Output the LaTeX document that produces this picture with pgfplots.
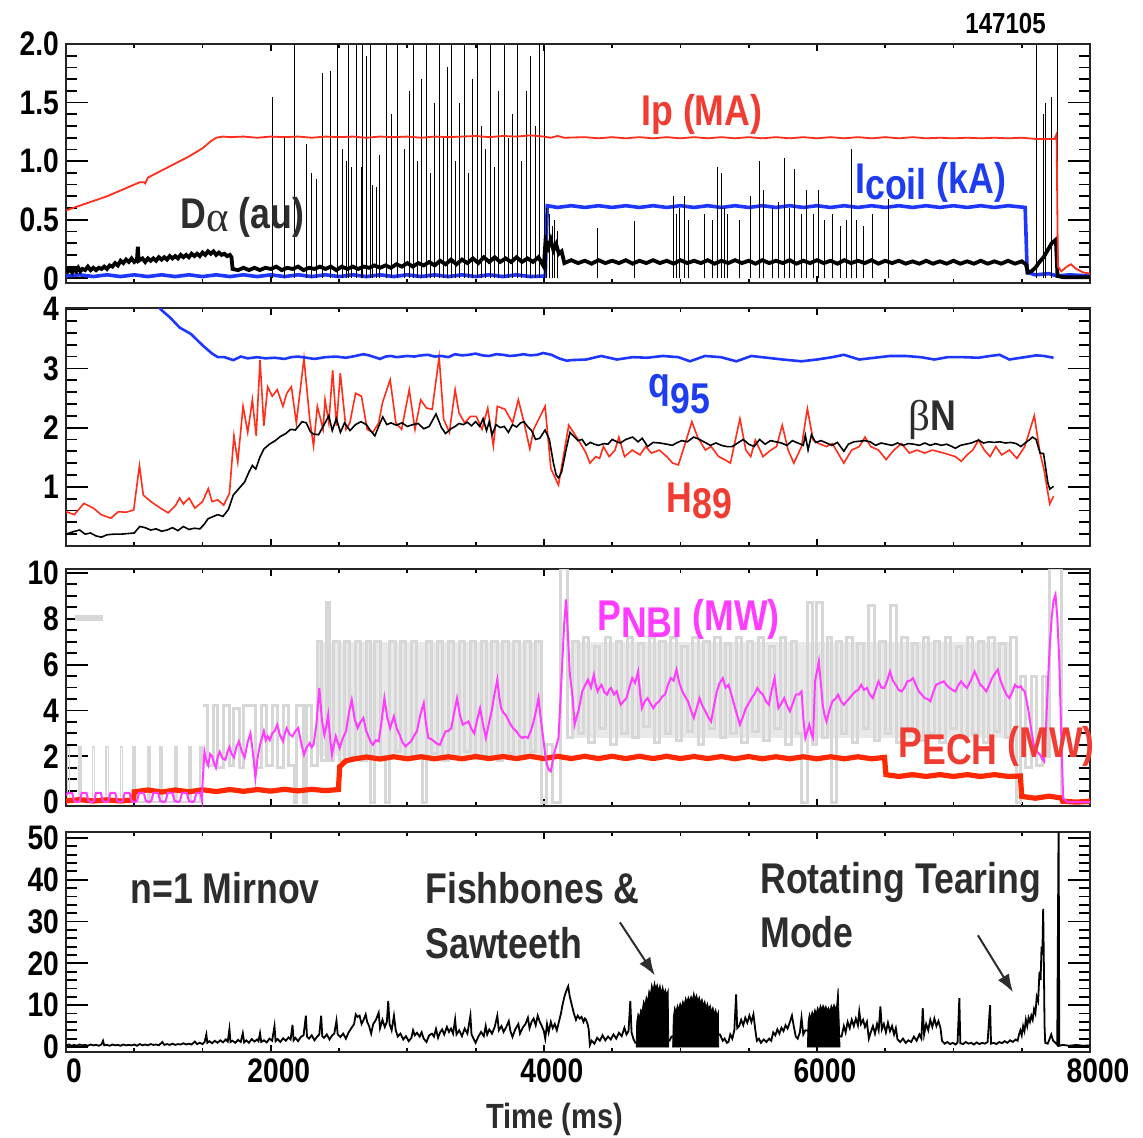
\documentclass[border=0pt]{standalone}
\usepackage{fontspec}
\setmainfont{Liberation Sans}[FakeStretch=0.83]
\newfontfamily\grk{Liberation Serif}
\usepackage{pgfplots}
\pgfplotsset{compat=1.18}
\usetikzlibrary{arrows.meta}

\definecolor{ipred}{RGB}{255,45,25}
\definecolor{lblred}{RGB}{240,60,50}
\definecolor{cblue}{RGB}{30,55,255}
\definecolor{lblblue}{RGB}{30,60,240}
\definecolor{nbimag}{RGB}{255,60,255}
\definecolor{echred}{RGB}{255,40,0}
\definecolor{beamgray}{RGB}{215,215,215}
\definecolor{beamfill}{RGB}{233,233,233}
\definecolor{txtgray}{RGB}{45,45,45}

\newcommand\tfont{\bfseries\fontsize{17}{17}\selectfont}
\newcommand\lfont{\bfseries\fontsize{21.5}{22}\selectfont}

\pgfplotsset{
  panel/.style={
    anchor=north west, scale only axis, width=512pt,
    xmin=500, xmax=8000,
    xtick={500,2000,4000,6000,8000}, xticklabels={},
    minor xtick={1000,1500,2500,3000,3500,4500,5000,5500,6500,7000,7500},
    tick align=inside, xtick pos=both, ytick pos=both,
    major tick length=11pt, minor tick length=5.5pt,
    xtick style={/pgfplots/major tick length=3.5pt,/pgfplots/minor tick length=2pt},
    every tick/.style={black, line width=0.9pt},
    axis line style={black!85, line width=1.2pt},
    yticklabel style={font=\tfont},
    xticklabel style={font=\tfont},
  }
}

\begin{document}
\begin{tikzpicture}
\path[use as bounding box] (0,0) rectangle (571.5pt,-568.5pt);

% ---------------- Panel 1: Ip, Icoil, D-alpha ----------------
\begin{axis}[panel, at={(33pt,-22pt)}, height=119.5pt,
  ymin=-0.04, ymax=2.0,
  ytick={0,0.5,1,1.5,2}, yticklabels={0,0.5,1.0,1.5,2.0},
  minor y tick num=4]
% coil current
\addplot[cblue, line width=1.8pt] coordinates {
(500,0.02)(600,0.03)(700,0.015)(800,0.03)(900,0.015)(1000,0.03)(1100,0.015)(1200,0.03)
(1300,0.015)(1400,0.03)(1500,0.015)(1600,0.03)(1700,0.015)(1800,0.03)(1900,0.015)(2000,0.03)
(2100,0.015)(2200,0.03)(2300,0.015)(2400,0.03)(2500,0.015)(2600,0.03)(2700,0.015)(2800,0.03)
(2900,0.015)(3000,0.03)(3100,0.015)(3200,0.03)(3300,0.015)(3400,0.03)(3500,0.015)(3600,0.03)
(3700,0.015)(3800,0.03)(3900,0.015)(4010,0.02)(4025,0.62)(4100,0.605)(4200,0.62)(4300,0.605)
(4400,0.62)(4500,0.605)(4600,0.62)(4700,0.605)(4800,0.62)(4900,0.605)(5000,0.62)(5100,0.605)
(5200,0.62)(5300,0.605)(5400,0.62)(5500,0.605)(5600,0.62)(5700,0.605)(5800,0.62)(5900,0.605)
(6000,0.62)(6100,0.605)(6200,0.62)(6300,0.605)(6400,0.62)(6500,0.605)(6600,0.62)(6700,0.605)
(6800,0.62)(6900,0.605)(7000,0.62)(7100,0.605)(7200,0.62)(7300,0.605)(7400,0.62)(7525,0.605)
(7540,0.05)(7600,0.03)(7700,0.04)(7760,0.02)(7850,0.03)(8000,0.02)};
% D-alpha baseline
\addplot[black, line width=1.9pt] coordinates {
(500,0.09)(515,0.06)(530,0.08)(545,0.05)(560,0.08)(575,0.06)(590,0.09)(605,0.06)(620,0.08)
(640,0.07)(660,0.10)(680,0.07)(700,0.09)(720,0.07)(740,0.09)(760,0.08)(780,0.10)(800,0.08)
(820,0.11)(840,0.10)(860,0.13)(880,0.11)(900,0.15)(920,0.13)(940,0.16)(960,0.14)(980,0.17)
(1000,0.14)(1020,0.16)(1026,0.27)(1032,0.15)(1060,0.17)(1080,0.14)(1100,0.17)(1120,0.15)
(1140,0.17)(1160,0.15)(1180,0.18)(1200,0.16)(1220,0.18)(1240,0.16)(1260,0.19)(1280,0.17)
(1300,0.19)(1320,0.17)(1340,0.20)(1360,0.18)(1380,0.20)(1400,0.18)(1420,0.21)(1440,0.19)
(1460,0.21)(1480,0.19)(1500,0.22)(1520,0.20)(1540,0.23)(1560,0.21)(1580,0.23)(1600,0.20)
(1620,0.22)(1640,0.20)(1660,0.21)(1680,0.19)(1700,0.20)(1712,0.18)(1720,0.08)
(1760,0.07)(1800,0.09)(1840,0.07)(1880,0.09)(1920,0.07)(1960,0.09)(2000,0.08)(2040,0.10)
(2080,0.07)(2120,0.09)(2160,0.08)(2200,0.10)(2240,0.07)(2280,0.09)(2320,0.08)(2360,0.10)
(2400,0.08)(2440,0.10)(2480,0.07)(2520,0.10)(2560,0.08)(2600,0.10)(2640,0.08)(2680,0.10)
(2720,0.09)(2760,0.11)(2800,0.09)(2840,0.11)(2880,0.09)(2920,0.12)(2960,0.10)(3000,0.13)
(3040,0.10)(3080,0.13)(3120,0.11)(3160,0.14)(3200,0.11)(3240,0.15)(3280,0.12)(3320,0.16)
(3360,0.12)(3400,0.16)(3440,0.13)(3480,0.17)(3520,0.13)(3560,0.18)(3600,0.14)(3640,0.18)
(3680,0.14)(3720,0.17)(3760,0.14)(3800,0.18)(3840,0.14)(3880,0.17)(3920,0.14)(3960,0.18)
(4000,0.10)(4012,0.32)(4030,0.26)(4050,0.33)(4070,0.24)(4090,0.29)(4110,0.21)(4130,0.23)
(4150,0.13)(4200,0.155)(4250,0.13)(4300,0.15)(4350,0.125)(4400,0.155)(4450,0.13)(4500,0.15)
(4550,0.13)(4600,0.155)(4650,0.125)(4700,0.15)(4750,0.13)(4800,0.155)(4850,0.13)(4900,0.15)
(4950,0.125)(5000,0.155)(5050,0.13)(5100,0.15)(5150,0.13)(5200,0.155)(5250,0.125)(5300,0.15)
(5350,0.13)(5400,0.155)(5450,0.13)(5500,0.15)(5550,0.125)(5600,0.155)(5650,0.13)(5700,0.15)
(5750,0.13)(5800,0.155)(5850,0.125)(5900,0.15)(5950,0.13)(6000,0.155)(6050,0.13)(6100,0.15)
(6150,0.125)(6200,0.155)(6250,0.13)(6300,0.15)(6350,0.13)(6400,0.155)(6450,0.125)(6500,0.15)
(6550,0.13)(6600,0.15)(6650,0.125)(6700,0.145)(6750,0.125)(6800,0.15)(6850,0.125)(6900,0.145)
(6950,0.125)(7000,0.15)(7050,0.125)(7100,0.145)(7150,0.125)(7200,0.15)(7250,0.125)(7300,0.145)
(7350,0.125)(7400,0.15)(7450,0.125)(7500,0.145)(7530,0.12)(7545,0.05)(7570,0.06)(7600,0.09)
(7630,0.14)(7660,0.18)(7690,0.24)(7720,0.30)(7750,0.33)(7762,0.02)(7800,0.01)(8000,0.01)};
% D-alpha ELM spikes
\addplot[black, line width=0.5pt, ycomb] coordinates {
(2015,1.55)(2102,1.20)(2176,2.10)(2263,1.15)(2300,0.90)(2336,0.85)(2380,1.75)(2438,1.77)
(2491,2.10)(2528,1.10)(2557,1.00)(2572,2.10)(2594,0.95)(2630,2.10)(2667,0.95)(2674,2.10)
(2704,1.90)(2733,2.10)(2748,0.80)(2777,0.78)(2799,1.05)(2850,2.10)(2887,1.40)(2930,2.10)
(2982,1.10)(3018,1.60)(3048,2.10)(3077,1.00)(3106,1.70)(3143,2.10)(3172,0.90)(3201,1.50)
(3238,2.10)(3267,1.20)(3297,1.80)(3326,2.10)(3355,1.00)(3385,1.50)(3421,2.10)(3450,0.90)
(3480,1.70)(3516,2.10)(3545,1.30)(3575,1.10)(3612,2.10)(3641,0.95)(3670,1.60)(3714,2.10)
(3743,1.20)(3773,1.40)(3810,2.10)(3839,1.00)(3875,1.60)(3905,1.90)(3941,1.30)(3971,2.10)
(4007,2.10)(4020,0.60)(4040,0.55)(4060,0.45)(4080,0.50)(4100,0.40)
(4394,0.43)(4661,0.49)(4952,0.70)(4970,0.55)(4990,0.60)(5028,0.70)(5056,0.50)(5177,0.55)
(5233,0.50)(5273,0.95)(5304,0.90)(5324,0.60)(5346,0.55)(5436,0.50)(5515,0.70)(5577,1.00)
(5605,0.75)(5676,0.60)(5718,0.65)(5760,1.03)(5802,0.60)(5836,0.93)(5887,0.55)(5924,0.75)
(5972,0.55)(6014,0.75)(6056,0.50)(6113,0.55)(6169,0.45)(6220,0.50)(6253,1.10)(6290,0.50)
(6338,0.45)(6408,0.55)(6521,0.68)
(7606,2.10)(7656,1.40)(7676,1.50)(7716,1.55)(7765,2.10)};
% plasma current
\addplot[ipred, line width=0.9pt] coordinates {
(500,0.58)(600,0.62)(700,0.66)(800,0.70)(900,0.75)(1000,0.80)(1040,0.82)(1070,0.82)
(1080,0.81)(1100,0.86)(1150,0.89)(1200,0.92)(1300,0.98)(1400,1.04)(1500,1.11)(1560,1.17)
(1600,1.20)(1650,1.21)(1700,1.205)(1800,1.21)(1900,1.20)(2000,1.21)(2100,1.205)(2200,1.21)
(2300,1.20)(2400,1.21)(2500,1.205)(2600,1.21)(2700,1.20)(2800,1.21)(2900,1.205)(3000,1.21)
(3100,1.20)(3200,1.21)(3300,1.205)(3400,1.21)(3500,1.215)(3600,1.205)(3700,1.215)(3800,1.21)
(3900,1.22)(4000,1.21)(4050,1.20)(4100,1.215)(4150,1.20)(4300,1.205)(4400,1.195)(4500,1.205)
(4600,1.195)(4700,1.205)(4800,1.195)(4900,1.205)(5000,1.195)(5100,1.205)(5200,1.195)(5300,1.205)
(5400,1.195)(5500,1.205)(5600,1.195)(5700,1.205)(5800,1.195)(5900,1.205)(6000,1.195)(6100,1.205)
(6200,1.195)(6300,1.205)(6400,1.195)(6500,1.205)(6600,1.195)(6700,1.205)(6800,1.195)(6900,1.20)
(7000,1.195)(7100,1.20)(7200,1.195)(7300,1.20)(7400,1.195)(7500,1.20)(7600,1.19)(7700,1.19)
(7740,1.19)(7755,1.23)(7765,0.10)(7790,0.06)(7830,0.10)(7860,0.12)(7900,0.08)(7950,0.05)(8000,0.04)};
\end{axis}

% ---------------- Panel 2: q95, betaN, H89 ----------------
\begin{axis}[panel, at={(33pt,-154pt)}, height=119pt,
  ymin=0, ymax=4.02,
  ytick={0,1,2,3,4}, yticklabels={,1,2,3,4},
  minor y tick num=4]
% confinement factor
\addplot[ipred, line width=0.8pt] coordinates {
(500,0.58)(561,0.53)(631,0.72)(701,0.64)(757,0.53)(828,0.47)(884,0.58)(940,0.57)(996,0.61)
(1038,1.36)(1066,0.86)(1122,0.75)(1192,0.64)(1248,0.56)(1304,0.69)(1332,0.81)(1360,0.71)
(1402,0.81)(1444,0.64)(1500,0.75)(1542,0.97)(1570,0.75)(1612,0.78)(1655,0.69)(1697,0.89)
(1730,1.86)(1758,1.42)(1797,2.36)(1831,1.92)(1865,2.47)(1893,1.86)(1921,3.14)(1949,2.03)
(1977,2.69)(2010,2.53)(2047,2.64)(2089,2.36)(2117,2.58)(2151,2.69)(2187,2.08)(2243,3.17)
(2285,2.14)(2313,1.69)(2341,2.36)(2383,1.97)(2397,2.47)(2425,2.08)(2453,2.97)(2481,2.03)
(2509,2.92)(2551,1.97)(2579,2.08)(2621,2.58)(2664,2.53)(2706,1.97)(2748,1.92)(2790,2.08)
(2818,2.42)(2874,2.81)(2916,2.08)(2958,1.97)(3014,2.64)(3056,1.97)(3098,2.47)(3140,2.33)
(3182,2.31)(3233,3.19)(3266,2.14)(3308,1.92)(3350,2.64)(3378,2.25)(3420,2.08)(3463,2.19)
(3505,2.19)(3547,1.97)(3589,2.33)(3630,1.69)(3659,2.36)(3715,2.31)(3771,2.08)(3813,2.47)
(3855,2.08)(3897,1.64)(3925,1.97)(4009,2.36)(4051,1.31)(4107,1.03)(4182,2.04)(4253,1.79)
(4309,1.57)(4337,1.40)(4380,1.51)(4408,1.48)(4436,1.68)(4478,1.51)(4521,1.62)(4549,1.84)
(4591,1.51)(4647,1.62)(4704,1.54)(4746,1.68)(4788,1.57)(4845,1.62)(4901,1.51)(4943,1.40)
(4985,1.37)(5028,1.68)(5084,2.10)(5126,1.84)(5183,1.62)(5225,1.68)(5281,1.51)(5324,1.46)
(5366,1.40)(5436,2.15)(5479,1.62)(5515,1.51)(5549,1.79)(5605,1.51)(5662,1.62)(5704,1.68)
(5746,2.04)(5789,1.62)(5831,1.40)(5887,1.68)(5930,2.32)(5972,1.79)(6014,1.73)(6070,1.68)
(6113,1.73)(6197,1.40)(6254,1.62)(6310,1.68)(6352,1.84)(6394,1.68)(6451,1.62)(6507,1.46)
(6563,1.62)(6620,1.73)(6676,1.57)(6733,1.62)(6789,1.57)(6845,1.62)(6930,1.57)(7014,1.51)
(7057,1.43)(7099,1.54)(7141,1.62)(7184,1.79)(7226,1.62)(7268,1.51)(7310,1.68)(7353,1.54)
(7409,1.62)(7465,1.48)(7522,1.68)(7592,2.20)(7634,1.57)(7663,1.29)(7705,0.71)(7733,0.84)};
% normalised beta
\addplot[black, line width=0.8pt] coordinates {
(500,0.20)(550,0.24)(600,0.27)(640,0.20)(680,0.22)(720,0.17)(760,0.15)(800,0.19)(850,0.20)
(900,0.20)(950,0.21)(1000,0.22)(1040,0.33)(1080,0.31)(1120,0.27)(1160,0.29)(1200,0.25)
(1240,0.27)(1280,0.31)(1320,0.26)(1360,0.33)(1400,0.28)(1440,0.30)(1480,0.29)(1510,0.36)
(1540,0.46)(1580,0.50)(1612,0.53)(1650,0.50)(1690,0.62)(1725,0.86)(1770,0.98)(1808,1.08)
(1840,1.25)(1865,1.36)(1890,1.30)(1920,1.50)(1950,1.64)(1990,1.72)(2033,1.78)(2070,1.85)
(2110,1.90)(2145,1.97)(2180,1.96)(2229,2.10)(2260,2.08)(2290,1.93)(2313,1.89)(2350,1.88)
(2390,2.05)(2425,2.20)(2450,1.95)(2480,2.15)(2510,1.92)(2540,2.08)(2580,1.95)(2620,2.05)
(2660,2.10)(2700,2.05)(2730,1.95)(2762,1.86)(2790,2.02)(2820,2.18)(2850,2.05)(2880,2.08)
(2920,2.04)(2960,2.08)(3000,2.02)(3040,2.05)(3080,2.07)(3120,1.98)(3160,2.02)(3210,2.23)
(3250,2.00)(3280,1.90)(3320,1.98)(3350,2.02)(3378,2.07)(3410,2.05)(3440,2.09)(3470,2.03)
(3500,2.10)(3530,2.02)(3555,2.15)(3580,1.95)(3600,2.10)(3620,1.88)(3650,2.05)(3680,2.00)
(3710,2.02)(3740,1.92)(3770,2.05)(3800,2.01)(3830,2.08)(3855,2.10)(3880,2.02)(3910,1.95)
(3939,1.80)(3970,1.82)(4009,1.96)(4040,1.80)(4070,1.40)(4090,1.20)(4107,1.15)(4130,1.25)
(4160,1.60)(4191,1.92)(4220,1.85)(4250,1.78)(4280,1.80)(4309,1.70)(4340,1.75)(4370,1.72)
(4400,1.70)(4440,1.73)(4470,1.72)(4500,1.80)(4535,1.76)(4560,1.74)(4600,1.80)(4650,1.84)
(4690,1.76)(4720,1.82)(4760,1.68)(4800,1.75)(4850,1.74)(4900,1.72)(4940,1.70)(4970,1.74)
(5010,1.78)(5050,1.76)(5098,1.84)(5140,1.80)(5180,1.75)(5220,1.70)(5260,1.74)(5300,1.70)
(5340,1.68)(5380,1.68)(5420,1.74)(5460,1.80)(5500,1.72)(5540,1.68)(5580,1.80)(5620,1.72)
(5660,1.78)(5700,1.76)(5740,1.74)(5780,1.70)(5820,1.78)(5860,1.74)(5900,1.70)(5915,1.87)
(5935,1.62)(5960,1.88)(5990,1.75)(6030,1.78)(6070,1.74)(6110,1.70)(6150,1.75)(6197,1.60)
(6230,1.72)(6270,1.76)(6310,1.77)(6350,1.78)(6390,1.76)(6430,1.70)(6470,1.74)(6510,1.72)
(6550,1.70)(6590,1.74)(6630,1.70)(6670,1.73)(6710,1.72)(6750,1.70)(6790,1.74)(6830,1.70)
(6870,1.73)(6910,1.70)(6950,1.72)(6990,1.68)(7014,1.65)(7050,1.70)(7090,1.72)(7130,1.74)
(7184,1.79)(7220,1.74)(7260,1.76)(7300,1.75)(7340,1.76)(7380,1.74)(7420,1.75)(7460,1.73)
(7494,1.68)(7530,1.75)(7560,1.80)(7578,1.84)(7605,1.80)(7634,1.57)(7660,1.56)(7691,1.07)
(7705,0.96)(7733,1.01)};
% edge safety factor
\addplot[cblue, line width=1.3pt] coordinates {
(1100,4.50)(1150,4.20)(1192,4.00)(1262,3.86)(1332,3.69)(1416,3.58)(1500,3.39)(1570,3.25)
(1612,3.19)(1660,3.19)(1725,3.14)(1780,3.20)(1830,3.17)(1900,3.19)(1960,3.17)(2030,3.18)
(2100,3.16)(2150,3.19)(2200,3.20)(2260,3.18)(2320,3.16)(2400,3.19)(2480,3.20)(2550,3.18)
(2620,3.21)(2678,3.24)(2720,3.22)(2760,3.19)(2800,3.16)(2840,3.20)(2880,3.21)(2920,3.19)
(2960,3.20)(3000,3.21)(3050,3.20)(3100,3.22)(3150,3.23)(3200,3.20)(3250,3.21)(3300,3.19)
(3350,3.24)(3400,3.22)(3450,3.23)(3500,3.25)(3550,3.22)(3600,3.21)(3650,3.24)(3700,3.23)
(3750,3.21)(3800,3.22)(3850,3.24)(3900,3.22)(3950,3.23)(3995,3.26)(4056,3.23)(4110,3.17)
(4168,3.13)(4200,3.14)(4309,3.15)(4420,3.21)(4535,3.15)(4650,3.19)(4760,3.18)(4870,3.21)
(4985,3.19)(5070,3.12)(5180,3.21)(5295,3.19)(5410,3.12)(5520,3.21)(5635,3.18)(5750,3.15)
(5887,3.12)(6000,3.15)(6113,3.19)(6197,3.23)(6310,3.15)(6422,3.18)(6535,3.21)(6648,3.21)
(6760,3.19)(6860,3.15)(6958,3.19)(7070,3.19)(7184,3.18)(7268,3.21)(7338,3.23)(7409,3.15)
(7522,3.19)(7606,3.22)(7663,3.21)(7733,3.18)};
\end{axis}

% ---------------- Panel 3: heating powers ----------------
\begin{axis}[panel, at={(33pt,-284.5pt)}, height=118.5pt,
  ymin=-0.17, ymax=10.17,
  ytick={0,2,4,6,8,10}, yticklabels={0,2,4,6,8,10},
  minor y tick num=3]
% envelope of the modulated beam power
\addplot[draw=none, fill=beamfill] coordinates {(2340,7.0)(3980,7.0)(3980,2.0)(2340,2.0)};
\addplot[draw=none, fill=beamfill] coordinates {(4210,7.0)(7420,7.0)(7420,2.8)(4210,2.8)};
% raw beam power: early diagnostic blips
\addplot[beamgray, line width=0.8pt, const plot] coordinates {
(500,0)(510,2.4)(525,0)(595,2.4)(610,0)(695,2.4)(710,0)(795,2.4)(810,0)(900,2.4)(915,0)
(990,2.4)(1005,0)(1100,2.4)(1115,0)(1190,2.4)(1205,0)(1300,2.4)(1315,0)(1400,2.4)(1415,0)
(1480,2.4)(1495,1.5)(1500,1.5)};
% raw beam power: modulated sources
\addplot[beamgray, line width=1.5pt, const plot] coordinates {
(1500,4.2)(1540,1.6)(1580,4.2)(1610,1.5)(1650,4.2)(1700,1.6)(1730,4.1)
(1770,1.5)(1800,4.2)(1850,4.2)(1890,1.5)(1930,4.2)(1970,1.6)(2010,4.2)(2050,1.5)(2090,4.2)
(2130,1.6)(2170,0)(2190,4.2)(2240,0)(2260,4.2)(2300,1.6)(2340,7.0)(2370,1.8)(2410,8.7)
(2430,1.8)(2460,7.0)(2500,1.8)(2540,7.0)(2580,2.0)(2620,7.0)(2660,1.8)(2700,7.0)(2730,0)
(2760,7.0)(2800,2.0)(2840,0)(2870,7.0)(2910,2.2)(2950,7.0)(2990,1.9)(3030,7.0)(3070,2.0)
(3110,0)(3140,7.0)(3180,2.1)(3220,7.0)(3260,1.8)(3300,7.0)(3340,2.0)(3380,7.0)(3420,2.2)
(3460,7.0)(3500,1.9)(3540,7.0)(3580,2.0)(3620,7.0)(3660,1.8)(3700,7.0)(3740,2.1)(3780,7.0)
(3820,1.9)(3860,7.0)(3900,2.2)(3940,7.0)(3980,0)(4020,2.5)(4060,0)(4120,10.2)(4170,2.8)
(4210,7.0)(4250,3.0)(4290,7.2)(4330,2.6)(4370,6.8)(4410,3.2)(4450,7.2)(4490,2.5)(4530,7.0)
(4570,3.0)(4610,7.2)(4650,2.8)(4690,6.9)(4730,3.3)(4770,7.2)(4810,2.6)(4850,7.0)(4890,3.0)
(4930,7.2)(4970,2.7)(5010,6.8)(5050,3.1)(5090,7.2)(5130,2.5)(5170,7.0)(5210,3.2)(5250,7.2)
(5290,2.8)(5330,6.9)(5370,3.0)(5410,7.2)(5450,2.6)(5490,7.0)(5530,3.1)(5570,7.2)(5610,2.7)
(5650,6.8)(5690,3.2)(5730,7.2)(5770,2.5)(5810,7.0)(5850,3.0)(5890,0)(5930,8.7)(5970,2.5)
(6000,8.7)(6040,2.8)(6080,7.2)(6110,0)(6140,7.0)(6180,3.0)(6220,7.2)(6260,2.6)(6300,6.9)
(6340,3.2)(6380,8.6)(6420,2.7)(6460,7.0)(6500,3.0)(6540,8.6)(6580,2.6)(6620,7.2)(6660,3.1)
(6700,6.9)(6740,2.7)(6780,7.2)(6820,3.0)(6860,7.0)(6900,2.6)(6940,7.2)(6980,3.2)(7020,6.8)
(7060,2.8)(7100,7.2)(7140,3.0)(7180,7.0)(7220,2.6)(7260,7.2)(7300,3.1)(7340,6.9)(7380,2.8)
(7420,7.2)(7460,0)(7490,5.5)(7530,1.5)(7570,5.5)(7610,1.6)(7650,5.5)(7680,2.0)(7700,10.2)
(7790,0)(8000,0)};
\addplot[beamgray, line width=3pt] coordinates {(564,8.05)(769,8.05)};
% electron cyclotron heating power
\addplot[echred, line width=2.6pt] coordinates {
(500,0.05)(600,0.11)(700,0.05)(800,0.10)(900,0.05)(995,0.10)(1000,0.45)(1100,0.53)(1200,0.44)
(1300,0.53)(1400,0.45)(1500,0.54)(1600,0.46)(1700,0.55)(1800,0.47)(1900,0.55)(2000,0.48)
(2100,0.56)(2200,0.49)(2300,0.56)(2400,0.50)(2495,0.55)(2505,1.55)(2550,1.80)(2600,1.87)
(2700,1.97)(2800,1.88)(2900,1.98)(3000,1.89)(3100,1.98)(3200,1.89)(3300,1.98)(3400,1.89)
(3500,1.99)(3600,1.90)(3700,1.99)(3800,1.90)(3900,2.00)(4000,1.90)(4100,2.00)(4200,1.90)
(4300,2.00)(4400,1.90)(4500,2.00)(4600,1.90)(4700,2.00)(4800,1.90)(4900,2.00)(5000,1.90)
(5100,1.99)(5200,1.90)(5300,1.99)(5400,1.89)(5500,1.99)(5600,1.89)(5700,1.98)(5800,1.89)
(5900,1.98)(6000,1.89)(6100,1.98)(6200,1.89)(6300,1.98)(6400,1.89)(6495,1.95)(6505,1.20)
(6600,1.12)(6700,1.20)(6800,1.12)(6900,1.20)(7000,1.12)(7100,1.20)(7200,1.12)(7300,1.20)
(7400,1.12)(7490,1.14)(7500,0.25)(7600,0.17)(7700,0.26)(7790,0.18)(7800,0.04)(7900,0.00)(8000,0.04)};
% neutral beam power (smoothed)
\addplot[nbimag, line width=1pt] coordinates {
(500,0.30)(515,0.40)(545,0.40)(560,0.05)(585,0)(600,0.05)(615,0.40)(650,0.40)(665,0.05)
(690,0)(705,0.05)(720,0.40)(755,0.40)(770,0.05)(795,0)(810,0.05)(825,0.40)(860,0.40)
(875,0.05)(900,0)(915,0.05)(930,0.40)(965,0.40)(980,0.05)(1005,0)(1020,0.05)(1035,0.40)
(1070,0.40)(1085,0.05)(1110,0)(1125,0.05)(1140,0.40)(1175,0.40)(1190,0.05)(1215,0)
(1230,0.05)(1245,0.40)(1280,0.40)(1295,0.05)(1320,0)(1335,0.05)(1350,0.40)(1385,0.40)
(1400,0.05)(1425,0)(1440,0.05)(1455,0.40)(1485,0.40)(1495,0.10)(1500,0.80)
(1514,2.20)(1528,1.80)(1542,1.60)(1556,2.10)(1570,2.00)(1584,1.70)(1598,1.50)(1612,2.00)
(1626,2.20)(1647,1.90)(1668,1.85)(1683,2.20)(1697,2.40)(1713,2.10)(1730,1.95)(1748,2.40)
(1767,2.65)(1788,2.20)(1808,1.95)(1830,2.60)(1851,3.00)(1870,2.10)(1887,1.05)(1905,2.00)
(1921,2.50)(1935,2.80)(1949,3.10)(1963,2.70)(1977,2.87)(1993,2.70)(2010,3.00)(2028,3.10)
(2047,3.38)(2068,2.90)(2089,2.65)(2103,3.00)(2117,3.23)(2138,2.95)(2159,2.87)(2180,3.10)
(2201,3.23)(2222,2.60)(2243,2.07)(2264,2.40)(2285,2.58)(2299,2.40)(2313,2.50)(2334,3.40)
(2355,4.98)(2374,3.60)(2392,2.94)(2406,3.30)(2420,3.81)(2434,2.80)(2448,2.07)(2462,2.50)
(2476,2.87)(2490,2.60)(2504,2.36)(2528,2.80)(2551,3.09)(2572,3.90)(2593,4.47)(2615,3.60)
(2636,3.23)(2657,3.50)(2678,3.67)(2699,3.10)(2720,2.80)(2734,2.60)(2748,2.50)(2769,2.70)
(2790,2.65)(2811,3.50)(2832,4.54)(2853,3.70)(2874,3.23)(2888,3.50)(2902,3.74)(2923,3.20)
(2944,2.94)(2965,2.60)(2986,2.43)(3007,2.55)(3028,2.65)(3049,2.90)(3070,3.09)(3095,3.80)
(3120,4.32)(3137,3.40)(3154,2.80)(3175,2.75)(3196,2.65)(3217,2.55)(3238,2.50)(3259,2.80)
(3280,3.09)(3301,3.10)(3322,3.23)(3343,3.90)(3364,4.54)(3385,3.80)(3406,3.38)(3427,3.45)
(3448,3.52)(3469,3.20)(3490,3.00)(3512,3.60)(3533,4.10)(3554,3.40)(3575,2.80)(3596,3.40)
(3617,3.96)(3638,4.70)(3659,5.34)(3673,4.60)(3687,4.10)(3704,3.90)(3720,3.81)(3738,3.60)
(3757,3.38)(3778,3.20)(3799,3.09)(3820,2.90)(3841,2.80)(3862,2.85)(3883,2.80)(3904,3.10)
(3925,3.52)(3943,4.00)(3961,4.54)(3978,3.60)(3995,2.80)(4009,2.10)(4023,1.63)(4037,1.40)
(4051,1.34)(4065,1.80)(4079,2.21)(4093,2.50)(4107,2.80)(4121,4.40)(4135,6.14)(4149,7.80)
(4163,8.84)(4177,7.20)(4190,5.60)(4211,4.54)(4225,3.38)(4239,3.70)(4253,3.96)(4267,4.40)
(4281,4.83)(4302,5.10)(4323,5.34)(4345,5.00)(4366,5.56)(4380,5.10)(4394,4.83)(4408,5.00)
(4422,5.12)(4443,4.80)(4464,4.69)(4478,4.90)(4492,4.98)(4514,4.70)(4535,4.83)(4549,4.50)
(4563,4.25)(4584,4.40)(4605,4.54)(4626,5.00)(4647,5.41)(4668,5.20)(4690,5.70)(4704,4.80)
(4718,4.10)(4739,4.40)(4760,4.54)(4781,4.30)(4802,4.10)(4823,4.30)(4845,4.40)(4866,4.60)
(4887,4.69)(4908,5.10)(4929,5.41)(4950,5.30)(4971,5.78)(4992,5.20)(5014,4.83)(5035,4.60)
(5056,4.40)(5077,4.00)(5098,3.67)(5119,4.10)(5140,4.54)(5161,4.20)(5183,3.96)(5204,3.70)
(5225,3.52)(5246,4.20)(5267,4.83)(5288,5.20)(5310,5.41)(5331,5.00)(5352,5.12)(5373,4.70)
(5394,4.25)(5415,3.80)(5436,3.38)(5457,3.70)(5479,4.10)(5500,4.30)(5521,4.54)(5542,4.70)
(5563,4.98)(5584,4.80)(5605,4.69)(5626,4.40)(5648,4.25)(5669,4.90)(5690,5.41)(5704,4.70)
(5718,4.10)(5739,4.30)(5760,4.54)(5781,4.20)(5802,3.96)(5823,4.30)(5845,4.69)(5866,4.70)
(5887,4.83)(5901,3.60)(5915,2.80)(5930,3.10)(5944,3.38)(5958,3.00)(5972,2.80)(5986,5.27)
(6000,5.70)(6014,6.14)(6028,5.20)(6042,4.25)(6056,3.80)(6070,3.52)(6091,4.00)(6113,4.40)
(6134,4.50)(6155,4.69)(6176,4.40)(6197,4.25)(6218,4.40)(6240,4.54)(6261,4.70)(6282,4.83)
(6303,4.90)(6324,5.12)(6345,4.90)(6366,4.98)(6387,4.70)(6409,4.54)(6430,4.90)(6451,5.27)
(6472,5.00)(6493,4.98)(6514,5.30)(6535,5.70)(6556,5.30)(6577,5.12)(6598,4.90)(6620,4.83)
(6641,5.00)(6662,5.27)(6683,5.30)(6704,5.41)(6725,5.10)(6746,4.83)(6767,4.70)(6789,4.54)
(6810,4.50)(6831,4.40)(6852,4.80)(6873,5.12)(6901,5.20)(6929,5.27)(6950,5.10)(6972,4.98)
(6993,4.90)(7014,4.83)(7035,5.10)(7056,5.27)(7077,5.10)(7099,4.98)(7127,5.30)(7155,5.70)
(7176,5.40)(7197,5.12)(7218,5.00)(7240,4.83)(7261,5.10)(7282,5.41)(7303,5.60)(7324,5.78)
(7345,5.30)(7366,4.98)(7387,4.70)(7409,4.54)(7430,4.80)(7451,5.12)(7472,5.00)(7494,5.05)
(7508,4.90)(7522,4.83)(7536,4.40)(7550,3.96)(7571,3.10)(7592,2.36)(7613,2.20)(7634,2.07)
(7648,1.90)(7663,1.78)(7677,3.20)(7691,5.12)(7705,6.80)(7719,8.03)(7733,8.80)(7747,9.05)
(7761,8.00)(7775,6.14)(7789,3.00)(7803,0.17)(7832,0)(8000,0)};
\end{axis}

% ---------------- Panel 4: n=1 Mirnov amplitude ----------------
\begin{axis}[panel, at={(33pt,-416pt)}, height=110pt,
  ymin=-1.2, ymax=51.4,
  ytick={0,10,20,30,40,50}, yticklabels={0,10,20,30,40,50},
  minor y tick num=4,
  xticklabels={0,2000,4000,6000,8000},
  xticklabel style={xshift=4pt}]
\addplot[black, line width=0.9pt] coordinates {
(500,0.3)(520,0.6)(540,0.3)(560,0.5)(580,0.3)(600,0.6)(620,0.4)(640,0.5)(660,0.3)(680,0.6)
(700,0.4)(720,0.5)(740,0.3)(760,0.6)(771,1.5)(780,0.4)(800,0.5)(820,0.3)(840,0.6)(860,0.4)
(880,0.5)(900,0.3)(920,0.6)(940,0.4)(960,0.5)(980,0.4)(1000,0.6)(1020,0.3)(1040,0.7)
(1060,0.4)(1080,0.6)(1100,0.4)(1120,0.7)(1140,0.5)(1160,0.6)(1180,0.4)(1206,1.2)(1220,0.5)
(1240,0.7)(1260,0.5)(1280,0.8)(1300,0.5)(1320,0.7)(1340,0.6)(1360,0.9)(1380,0.6)(1400,0.8)
(1420,0.6)(1444,1.3)(1460,0.7)(1480,1.0)(1500,0.7)(1515,1.2)(1528,3.0)(1535,1.0)(1550,1.4)
(1570,0.9)(1590,1.5)(1610,1.0)(1630,1.6)(1650,1.1)(1670,1.8)(1685,1.3)(1697,4.3)(1705,1.2)
(1720,1.5)(1740,1.0)(1760,1.7)(1780,1.2)(1795,3.3)(1805,1.1)(1820,1.6)(1840,1.0)(1860,1.9)
(1880,1.3)(1900,1.8)(1910,1.4)(1921,3.3)(1930,1.2)(1950,1.6)(1970,1.1)(1990,2.0)(2010,1.5)
(2027,5.0)(2035,1.4)(2050,1.9)(2070,1.2)(2090,2.1)(2110,1.5)(2130,2.3)(2145,1.8)(2159,5.3)
(2167,1.6)(2180,2.2)(2200,1.4)(2220,2.4)(2240,2.8)(2257,7.5)(2265,2.5)(2280,2.0)(2300,2.8)
(2320,1.6)(2340,2.5)(2355,3.0)(2369,7.5)(2377,2.6)(2390,2.2)(2410,3.0)(2430,1.8)(2450,2.8)
(2465,3.2)(2481,6.3)(2490,3.0)(2510,2.4)(2530,3.2)(2550,2.0)(2570,3.5)(2590,4.5)(2610,5.5)
(2622,7.8)(2635,7.2)(2650,7.5)(2665,5.5)(2680,6.5)(2695,7.8)(2706,6.0)(2720,5.0)(2735,3.2)
(2750,5.5)(2770,6.5)(2790,8.2)(2800,4.5)(2818,6.5)(2835,4.8)(2850,6.0)(2860,11.0)(2870,5.5)
(2885,4.0)(2902,7.5)(2915,4.0)(2930,2.5)(2950,3.2)(2970,1.8)(2990,2.6)(3010,1.4)(3030,2.2)
(3042,4.0)(3055,2.8)(3070,3.4)(3090,2.5)(3105,3.5)(3120,2.0)(3140,1.2)(3160,2.8)(3180,3.2)
(3195,2.5)(3210,4.3)(3225,2.2)(3240,3.5)(3255,4.2)(3270,3.0)(3290,4.8)(3305,3.6)(3320,4.4)
(3335,3.2)(3350,6.6)(3360,3.0)(3380,4.0)(3400,2.6)(3420,4.4)(3440,3.2)(3462,7.5)(3470,3.0)
(3485,2.0)(3500,1.0)(3520,2.5)(3540,3.6)(3560,2.6)(3574,5.0)(3585,3.0)(3600,4.2)(3620,3.2)
(3640,4.8)(3659,7.5)(3670,4.0)(3690,5.0)(3705,3.6)(3725,4.8)(3743,6.2)(3755,3.8)(3770,2.4)
(3790,4.2)(3813,5.5)(3825,3.2)(3845,4.6)(3865,5.5)(3883,7.0)(3895,4.5)(3910,6.0)(3925,6.8)
(3940,5.2)(3955,7.5)(3970,6.0)(3985,5.0)(4000,3.8)(4010,2.0)(4023,5.5)(4035,3.5)(4051,6.0)
(4065,4.5)(4080,5.5)(4095,4.0)(4110,6.0)(4125,8.0)(4136,10.0)(4150,12.0)(4165,13.5)(4178,14.5)
(4190,12.0)(4205,10.0)(4220,8.0)(4235,6.5)(4248,7.5)(4262,6.8)(4276,7.2)(4290,6.0)(4300,6.8)
(4309,6.5)(4320,5.5)(4328,4.3)(4337,0.5)(4350,1.5)(4370,0.8)(4390,2.2)(4410,1.5)(4430,2.8)
(4450,1.6)(4470,2.5)(4490,1.8)(4510,3.0)(4530,2.0)(4550,3.4)(4570,2.6)(4590,4.6)(4605,3.0)
(4620,3.8)(4633,11.0)(4642,3.5)(4655,2.0)(4670,1.0)(4920,1.5)(4935,2.5)(5290,3.0)(5310,1.5)
(5324,2.0)(5340,1.0)(5352,1.2)(5365,3.0)(5380,2.0)(5395,4.0)(5408,12.6)(5416,4.5)(5430,5.0)
(5445,6.5)(5460,5.2)(5475,7.0)(5490,5.8)(5505,7.5)(5520,6.0)(5535,7.8)(5549,4.0)(5560,1.5)
(5575,2.0)(5590,1.0)(5610,1.8)(5630,1.2)(5650,2.0)(5665,1.5)(5680,3.5)(5695,2.8)(5710,4.2)
(5725,3.2)(5740,4.6)(5755,3.8)(5770,5.2)(5785,4.4)(5800,5.8)(5817,7.5)(5830,5.0)(5845,2.5)
(5859,2.0)(5875,3.5)(5887,7.0)(5900,3.0)(5915,4.0)(6180,2.5)(6197,5.0)(6210,3.5)(6225,6.0)
(6240,4.5)(6255,6.5)(6270,5.0)(6285,6.8)(6300,5.2)(6310,8.5)(6322,5.5)(6338,6.5)(6352,4.8)
(6366,6.0)(6380,2.0)(6394,3.5)(6410,5.0)(6425,3.2)(6440,5.5)(6452,4.0)(6465,9.7)(6475,4.2)
(6490,5.5)(6505,3.5)(6520,5.8)(6535,3.8)(6550,5.0)(6565,3.0)(6578,4.5)(6590,1.8)(6610,1.2)
(6630,2.0)(6650,1.0)(6670,1.6)(6690,1.2)(6710,2.5)(6730,1.5)(6750,3.0)(6765,2.0)(6775,9.3)
(6785,3.0)(6800,5.5)(6815,4.0)(6830,6.5)(6845,4.8)(6860,6.8)(6875,5.0)(6890,6.2)(6905,4.5)
(6916,1.5)(6935,0.8)(6955,1.2)(6975,0.7)(6995,1.0)(7015,0.6)(7030,1.1)(7043,11.7)(7050,0.9)
(7070,0.7)(7090,1.2)(7110,0.8)(7130,1.0)(7150,0.6)(7170,1.1)(7190,0.7)(7210,1.0)(7230,0.8)
(7250,1.2)(7268,10.0)(7275,0.8)(7295,1.0)(7315,0.7)(7335,1.2)(7355,0.9)(7375,1.4)(7395,1.0)
(7415,1.6)(7435,1.2)(7455,1.8)(7470,1.5)(7480,3.0)(7490,4.0)(7500,2.8)(7510,5.0)(7520,3.8)
(7530,6.5)(7540,5.0)(7550,7.0)(7560,6.0)(7570,7.5)(7580,6.5)(7590,9.0)(7600,8.0)(7610,12.0)
(7620,11.0)(7630,18.0)(7638,16.0)(7645,24.0)(7651,22.0)(7657,33.0)(7662,20.0)(7667,5.0)
(7672,1.0)(7690,0.8)(7705,2.0)(7716,3.0)(7730,1.5)(7747,1.0)(7760,0.5)(7770,55)(7775,0.3)
(7800,0.5)(7850,0.3)(7900,0.5)(7950,0.3)(8000,0.4)};
% fishbone bursts
\addplot[black, fill=black, line width=0.4pt] coordinates {
(4676,0)(4680,6)(4690,8)(4700,7)(4710,9)(4720,8.5)(4730,11)(4740,10)(4750,12)(4760,11)
(4770,13.5)(4780,12.5)(4790,15)(4800,13.5)(4810,15.5)(4820,14)(4830,15)(4840,13.5)(4850,14.8)
(4860,13)(4870,14.5)(4880,12.8)(4890,13.8)(4900,12.5)(4910,13.6)(4915,0)} \closedcycle;
\addplot[black, fill=black, line width=0.4pt] coordinates {
(4943,0)(4948,7)(4958,9.5)(4968,8.5)(4978,10)(4988,9)(4998,10.5)(5008,9.5)(5018,11)(5028,10)
(5038,11.8)(5048,10.8)(5058,12)(5068,11)(5078,12.2)(5088,11.2)(5098,13)(5108,11.5)(5118,12.5)
(5128,11)(5138,12)(5148,10.5)(5158,11.5)(5168,10)(5178,11)(5188,9.5)(5198,10.5)(5208,9)
(5218,10)(5228,8.5)(5238,9.5)(5248,8)(5258,9)(5268,7.5)(5278,8.5)(5281,0)} \closedcycle;
\addplot[black, fill=black, line width=0.4pt] coordinates {
(5930,0)(5935,6)(5945,8)(5955,7)(5965,8.5)(5975,7.5)(5985,9)(5995,8)(6005,9.5)(6015,8.5)
(6025,10)(6035,9)(6045,10)(6055,9)(6065,9.8)(6075,8.8)(6085,9.5)(6095,8.5)(6105,10)(6115,9)
(6125,10.2)(6135,9.2)(6145,10)(6155,14)(6160,9)(6169,0)} \closedcycle;
\draw[-{Latex[length=9pt,width=6.5pt]}, line width=1pt, txtgray] (axis cs:4557,29.8) -- (axis cs:4813,17.1);
\draw[-{Latex[length=9pt,width=6.5pt]}, line width=1pt, txtgray] (axis cs:7179,26.7) -- (axis cs:7436,13.1);
\end{axis}

% ---------------- labels ----------------
\node[anchor=base west, inner sep=0pt, font=\bfseries\fontsize{14.5}{15}\selectfont] at (482.5pt,-16.5pt) {147105};
\node[anchor=base west, inner sep=0pt, font=\lfont, text=lblred] at (320.5pt,-62.5pt) {Ip (MA)};
\node[anchor=base west, inner sep=0pt, font=\lfont, text=lblblue] at (427.5pt,-96.5pt) {I\raisebox{-3pt}{coil} (kA)};
\node[anchor=base west, inner sep=0pt, font=\lfont, text=txtgray] at (90pt,-114pt) {D\raisebox{-1.5pt}{\grk\mdseries α} (au)};
\node[anchor=base west, inner sep=0pt, font=\lfont, text=lblblue] at (324pt,-198.5pt) {q\raisebox{-8pt}{95}};
\node[anchor=base west, inner sep=0pt, font=\lfont, text=txtgray] at (454pt,-215pt) {{\grk\mdseries β}N};
\node[anchor=base west, inner sep=0pt, font=\lfont, text=lblred] at (333pt,-256pt) {H\raisebox{-3pt}{89}};
\node[anchor=base west, inner sep=0pt, font=\lfont, text=nbimag] at (298.5pt,-315pt) {P\raisebox{-3.5pt}{NBI} (MW)};
\node[anchor=base west, inner sep=0pt, font=\lfont, text=lblred] at (449pt,-378.5pt) {P\raisebox{-3.5pt}{ECH} (MW)};
\node[anchor=base west, inner sep=0pt, font=\lfont, text=txtgray] at (65pt,-451.5pt) {n=1 Mirnov};
\node[anchor=base west, inner sep=0pt, font=\lfont, text=txtgray] at (212.5pt,-451.5pt) {Fishbones \&};
\node[anchor=base west, inner sep=0pt, font=\lfont, text=txtgray] at (212.5pt,-479pt) {Sawteeth};
\node[anchor=base west, inner sep=0pt, font=\lfont, text=txtgray] at (380pt,-446.5pt) {Rotating Tearing};
\node[anchor=base west, inner sep=0pt, font=\lfont, text=txtgray] at (380pt,-473.5pt) {Mode};
\node[anchor=base, inner sep=0pt, font=\bfseries\fontsize{17.5}{18}\selectfont, text=txtgray] at (277.5pt,-564pt) {Time (ms)};
\end{tikzpicture}
\end{document}
